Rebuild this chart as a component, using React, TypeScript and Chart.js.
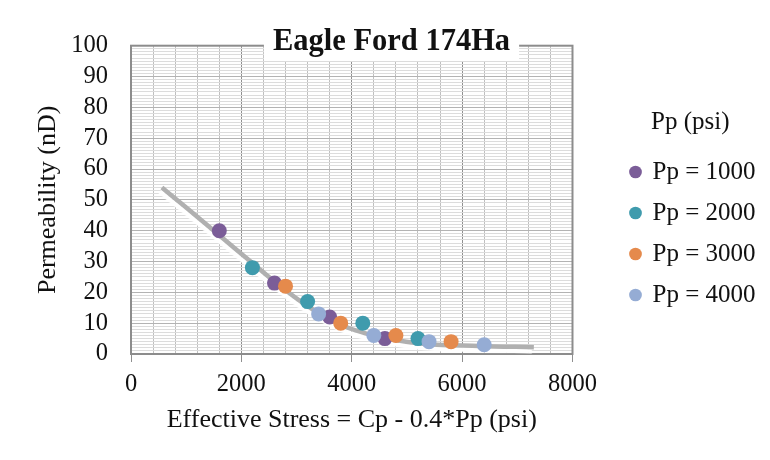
import React, { useEffect, useRef } from "react";
import { Chart, registerables } from "chart.js";

Chart.register(...registerables);

// ---- data ----
const stress1000 = [1600, 2600, 3600, 4600];
const perm1000 = [40, 23, 12, 5];
const stress2000 = [2200, 3200, 4200, 5200];
const perm2000 = [28, 17, 10, 5];
const stress3000 = [2800, 3800, 4800, 5800];
const perm3000 = [22, 10, 6, 4];
const stress4000 = [3400, 4400, 5400, 6400];
const perm4000 = [13, 6, 4, 3];

const trendStress = [560, 1000, 1600, 2200, 2600, 3200, 3800, 4400, 5200, 6300, 7300];
const trendPerm = [54, 47.5, 38.5, 29.5, 23.5, 15.5, 9.5, 6, 3.5, 2.6, 2.2];

const seriesLabels = ["Pp = 1000", "Pp = 2000", "Pp = 3000", "Pp = 4000"];
const seriesColors = ["#7b5d98", "#3f9bad", "#e58a4c", "#95acd4"];

const xTickLabels = [0, 2000, 4000, 6000, 8000];
const yTickLabels = [0, 10, 20, 30, 40, 50, 60, 70, 80, 90, 100];

const chartTitle = "Eagle Ford 174Ha";
const legendTitle = "Pp (psi)";
const xTitle = "Effective Stress = Cp - 0.4*Pp (psi)";
const yTitle = "Permeability (nD)";

const FONT = "'Liberation Serif', 'Times New Roman', serif";
const TEXT = "#111111";

const toPoints = (xs: number[], ys: number[]) => xs.map((x, i) => ({ x, y: ys[i] }));

const titlePlugin = {
  id: "boxTitle",
  afterDraw(chart: any) {
    const ctx = chart.ctx;
    const cx = chart.width / 2 + 2.5;
    ctx.save();
    ctx.font = `bold 30.5px ${FONT}`;
    const w = ctx.measureText(chartTitle).width;
    ctx.fillStyle = "#ffffff";
    ctx.fillRect(cx - w / 2 - 9, 10, w + 18, 43);
    ctx.fillStyle = TEXT;
    ctx.textAlign = "center";
    ctx.textBaseline = "alphabetic";
    ctx.fillText(chartTitle, cx, 42);
    ctx.restore();
  },
};

const framePlugin = {
  id: "frame",
  beforeDatasetsDraw(chart: any) {
    const { ctx, chartArea } = chart;
    ctx.save();
    ctx.strokeStyle = "#8c8c8c";
    ctx.lineWidth = 2;
    ctx.strokeRect(chartArea.left, chartArea.top, chartArea.right - chartArea.left, chartArea.bottom - chartArea.top);
    ctx.restore();
  },
};

const shadowPlugin = {
  id: "trendShadow",
  beforeDatasetDraw(chart: any, args: any) {
    if (args.index === 4) {
      const c = chart.ctx;
      c.save();
      c.shadowColor = "rgba(255,255,255,1)";
      c.shadowOffsetX = -2;
      c.shadowOffsetY = 4;
      c.shadowBlur = 1;
    }
  },
  afterDatasetDraw(chart: any, args: any) {
    if (args.index === 4) chart.ctx.restore();
  },
};

export default function App() {
  const canvasRef = useRef<HTMLCanvasElement | null>(null);

  useEffect(() => {
    if (!canvasRef.current) return;
    const series = [
      toPoints(stress1000, perm1000),
      toPoints(stress2000, perm2000),
      toPoints(stress3000, perm3000),
      toPoints(stress4000, perm4000),
    ];
    const datasets: any[] = series.map((data, i) => ({
      type: "scatter",
      label: seriesLabels[i],
      data,
      backgroundColor: seriesColors[i],
      borderColor: seriesColors[i],
      borderWidth: 0,
      pointRadius: 7.5,
      pointStyle: "circle",
      order: 4 - i,
    }));
    datasets.push({
      type: "line",
      label: "trend",
      data: toPoints(trendStress, trendPerm),
      borderColor: "#b0b0b0",
      borderWidth: 4.5,
      pointRadius: 0,
      showLine: true,
      fill: false,
      cubicInterpolationMode: "monotone",
      order: 10,
    });

    const chart = new Chart(canvasRef.current, {
      type: "scatter",
      data: { datasets },
      plugins: [framePlugin, shadowPlugin, titlePlugin],
      options: {
        animation: false,
        responsive: true,
        maintainAspectRatio: false,
        layout: { padding: { top: 23, right: 4.5, bottom: 24.4, left: 0 } },
        plugins: {
          tooltip: { enabled: false },
          legend: {
            position: "right",
            align: "start",
            labels: {
              usePointStyle: true,
              boxWidth: 9,
              boxHeight: 9,
              padding: 16,
              color: TEXT,
              font: { family: FONT, size: 25 },
              filter: (item: any) => item.datasetIndex < 4,
              sort: (a: any, b: any) => a.datasetIndex - b.datasetIndex,
            },
            title: {
              display: true,
              text: legendTitle,
              color: TEXT,
              font: { family: FONT, size: 25 },
              padding: { top: 78.5, bottom: 4 },
            },
          },
        },
        scales: {
          x: {
            type: "linear",
            position: "bottom",
            min: 0,
            max: 8000,
            ticks: {
              stepSize: 400,
              autoSkip: false,
              maxRotation: 0,
              minRotation: 0,
              padding: 8.3,
              color: TEXT,
              font: { family: FONT, size: 24.5 },
              callback: (v: any) => (xTickLabels.includes(Math.round(v)) ? String(Math.round(v)) : ""),
            },
            grid: {
              color: (c: any) => (c.tick && Math.round(c.tick.value) % 2000 === 0 ? "#8f8f8f" : "#bfbfbf"),
              tickColor: (c: any) => (c.tick && Math.round(c.tick.value) % 2000 === 0 ? "#8f8f8f" : "rgba(0,0,0,0)"),
              tickLength: 8,
              lineWidth: 1,
            },
            border: { display: false },
            title: {
              display: true,
              text: xTitle,
              color: TEXT,
              font: { family: FONT, size: 26 },
              padding: { top: 0, bottom: 0 },
            },
            afterFit: (s: any) => {
              s.height = 81.6;
            },
          },
          y: {
            type: "linear",
            position: "left",
            min: 0,
            max: 100,
            ticks: {
              stepSize: 1,
              autoSkip: false,
              padding: 23,
              color: TEXT,
              font: { family: FONT, size: 24.5 },
              callback: (v: any) => (yTickLabels.includes(Math.round(v)) ? String(Math.round(v)) : ""),
            },
            grid: {
              color: (c: any) => (c.tick && Math.round(c.tick.value) % 10 === 0 ? "#b3b3b3" : "#dcdcdc"),
              drawTicks: false,
              lineWidth: 1,
            },
            border: { display: false },
            title: {
              display: true,
              text: yTitle,
              color: TEXT,
              font: { family: FONT, size: 26 },
              padding: { top: 24.4, bottom: 0 },
            },
            afterFit: (s: any) => {
              s.width = 123;
            },
          },
          yRightSpacer: {
            type: "linear",
            position: "right",
            display: false,
            afterFit: (s: any) => {
              s.width = 42.5;
            },
          },
        },
      } as any,
    });
    return () => chart.destroy();
  }, []);

  return (
    <div
      style={{
        marginLeft: -2,
        marginTop: -2,
        width: 764,
        height: 454,
        boxSizing: "border-box",
        borderLeft: "2px solid #c9c9c9",
        borderTop: "2px solid #c9c9c9",
        overflow: "hidden",
        background: "#ffffff",
      }}
    >
      <div style={{ position: "relative", width: 762, height: 452 }}>
        <canvas ref={canvasRef} />
      </div>
    </div>
  );
}
